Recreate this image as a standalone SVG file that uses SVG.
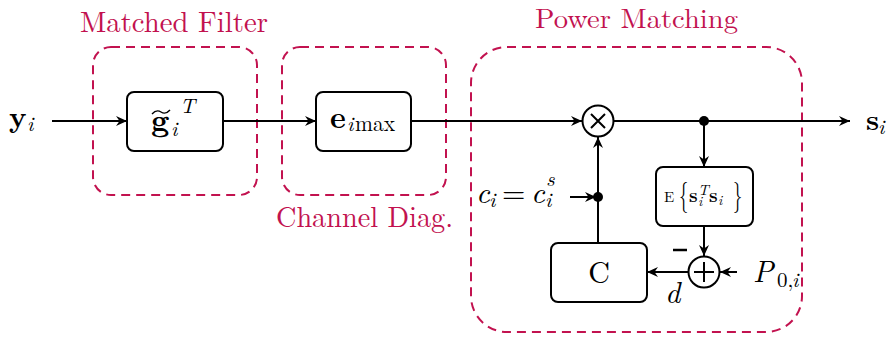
<svg xmlns="http://www.w3.org/2000/svg" width="890" height="338" viewBox="0 0 890 338" font-family="'Latin Modern Roman','Liberation Serif',serif">
<defs>
<marker id="arr" markerUnits="userSpaceOnUse" markerWidth="14" markerHeight="12" viewBox="-12 -6 14 12" refX="0" refY="0" orient="auto">
<path d="M0,0 L-11,-5 L-7.5,0 L-11,5 Z" fill="#000"/>
</marker>
</defs>
<style>
.grp{fill:none;stroke:#C2124F;stroke-width:2;stroke-dasharray:9 6}
.box{fill:#fff;stroke:#000;stroke-width:2}
.ln{fill:none;stroke:#000;stroke-width:2}
.lab{fill:#C2124F}
</style>
<rect width="890" height="338" fill="#fff"/>
<g id="matched-filter-group">
<rect class="grp" x="93" y="47" width="164" height="148" rx="18"/>
<text class="lab" x="80" y="32" font-size="29" textLength="188" lengthAdjust="spacingAndGlyphs">Matched Filter</text>
</g>
<g id="channel-diag-group">
<rect class="grp" x="282" y="47" width="164" height="148" rx="18"/>
<text class="lab" x="276" y="227" font-size="29" textLength="177" lengthAdjust="spacingAndGlyphs">Channel Diag.</text>
</g>
<g id="power-matching-group">
<rect class="grp" x="471" y="47" width="331" height="285" rx="36"/>
<text class="lab" x="535" y="28" font-size="27" textLength="203" lengthAdjust="spacingAndGlyphs">Power Matching</text>
</g>
<g id="connectors">
<path class="ln" d="M52,121 H127" marker-end="url(#arr)"/>
<path class="ln" d="M223,121 H316" marker-end="url(#arr)"/>
<path class="ln" d="M411,121 H582" marker-end="url(#arr)"/>
<path class="ln" d="M614,121 H850" marker-end="url(#arr)"/>
<path class="ln" d="M704,121 V167" marker-end="url(#arr)"/>
<path class="ln" d="M704,226 V256" marker-end="url(#arr)"/>
<path class="ln" d="M737,272 H720" marker-end="url(#arr)"/>
<path class="ln" d="M688,272 H647" marker-end="url(#arr)"/>
<path class="ln" d="M598,243 V137" marker-end="url(#arr)"/>
<path class="ln" d="M570,197 H596" marker-end="url(#arr)"/>
<circle cx="704" cy="121" r="5" fill="#000"/>
<circle cx="598" cy="197" r="5" fill="#000"/>
</g>
<g id="input-yi">
<text x="9" y="127" font-size="29" font-weight="bold">y</text>
<text x="27" y="131" font-size="21" font-style="italic">i</text>
</g>
<g id="g-box">
<rect class="box" x="127" y="92" width="96" height="59" rx="7"/>
<text x="151" y="131" font-size="32" font-weight="bold">g</text>
<path d="M152,114 q4.5,-5 9,-2 t9,-2" fill="none" stroke="#000" stroke-width="1.4"/>
<text x="171" y="136" font-size="21" font-style="italic">i</text>
<text x="180" y="113" font-size="21" font-style="italic">T</text>
</g>
<g id="e-box">
<rect class="box" x="316" y="92" width="95" height="59" rx="7"/>
<text x="330" y="128" font-size="30" font-weight="bold">e</text>
<text x="347" y="131" font-size="21" font-style="italic">i</text>
<text x="355" y="131" font-size="22" textLength="40" lengthAdjust="spacingAndGlyphs">max</text>
</g>
<g id="multiplier">
<circle class="box" cx="598" cy="121" r="15.5"/>
<path class="ln" d="M591,114 L605,128 M605,114 L591,128" stroke-width="1.6"/>
</g>
<g id="output-si">
<text x="866" y="130" font-size="29" font-weight="bold">s</text>
<text x="878" y="134" font-size="21" font-style="italic">i</text>
</g>
<g id="ci-label">
<text x="476" y="203" font-size="30" font-style="italic">c</text>
<text x="489" y="207" font-size="21" font-style="italic">i</text>
<text x="502" y="203" font-size="30">=</text>
<text x="531" y="203" font-size="30" font-style="italic">c</text>
<text x="545" y="207" font-size="21" font-style="italic">i</text>
<text x="546" y="186" font-size="21" font-style="italic">s</text>
</g>
<g id="expectation-box">
<rect class="box" x="656" y="167" width="97" height="59" rx="7"/>
<text x="664" y="202" font-size="15">E</text>
<text transform="translate(679,205) scale(0.8,1.35)" font-size="23">{</text>
<text x="689" y="202" font-size="19" font-weight="bold">s</text>
<text x="698" y="195" font-size="15" font-style="italic">T</text>
<text x="698" y="206" font-size="14" font-style="italic">i</text>
<text x="709" y="202" font-size="19" font-weight="bold">s</text>
<text x="718" y="205" font-size="14" font-style="italic">i</text>
<text transform="translate(733,205) scale(0.8,1.35)" font-size="23">}</text>
</g>
<g id="summer">
<circle class="box" cx="704" cy="272" r="15.5"/>
<path class="ln" d="M694,272 H714 M704,262 V282" stroke-width="1.6"/>
<path d="M673,250 H687" stroke="#000" stroke-width="2.5"/>
</g>
<g id="p0i-label">
<text x="753" y="282" font-size="30" font-style="italic">P</text>
<text x="777" y="287" font-size="21">0,</text>
<text x="792" y="287" font-size="21" font-style="italic">i</text>
</g>
<g id="d-label">
<text x="665" y="303" font-size="30" font-style="italic">d</text>
</g>
<g id="c-box">
<rect class="box" x="551" y="243" width="96" height="59" rx="7"/>
<text x="599" y="283" font-size="30" text-anchor="middle">C</text>
</g>
</svg>
